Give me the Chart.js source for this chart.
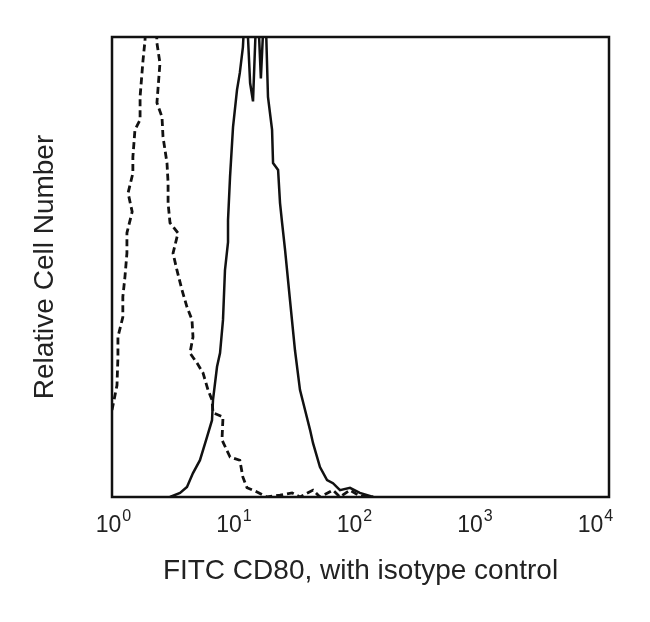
<!DOCTYPE html>
<html>
<head>
<meta charset="utf-8">
<script src="https://cdn.jsdelivr.net/npm/chart.js@4/dist/chart.umd.min.js"></script>
<style>
  html, body { margin: 0; padding: 0; background: #fff; }
  #wrap { width: 650px; height: 622px; }
</style>
</head>
<body>
<div id="wrap"><canvas id="c"></canvas></div>
<script>
// isotype control (dashed) - fluorescence vs relative count
const isoX = [1.00, 1.04, 1.10, 1.12, 1.12, 1.23, 1.23, 1.28, 1.33, 1.33, 1.47, 1.36, 1.49, 1.49, 1.55,
  1.71, 1.71, 1.81, 1.88, 1.95, 2.07, 2.28, 2.36, 2.50, 2.36, 2.60, 2.65, 2.86, 2.92, 2.92, 3.03,
  3.53, 3.21, 3.46, 3.81, 4.19, 4.61, 4.70, 4.44, 5.08, 5.69, 6.26, 6.76, 6.89, 8.34, 8.18, 9.54,
  11.5, 12.2, 13.2, 16.0, 19.3, 24.8, 31.2, 36.3, 46.6, 53.2, 68.2, 78.0, 94.4, 114, 147];
const isoY = [18.9, 21.1, 24.3, 30.4, 34.8, 39.1, 43.5, 47.8, 53.0, 57.4, 62.0, 66.1, 70.4, 73.9, 79.8,
  82.0, 87.0, 95.0, 99.3, 110, 110, 110, 98.7, 94.3, 85.7, 82.6, 78.3, 72.6, 68.3, 63.9, 59.6,
  57.4, 53.0, 49.3, 45.0, 41.3, 38.5, 34.8, 31.3, 29.1, 27.0, 23.3, 21.1, 18.3, 17.4, 12.4, 8.7,
  8.0, 4.3, 2.0, 1.1, 0, 0.4, 0.9, 0, 1.5, 0, 1.5, 0, 1.5, 0.2, 0];

// FITC CD80 (solid)
const cd80X = [3.03, 3.67, 4.19, 4.70, 5.37, 6.14, 6.76, 6.89, 7.44, 7.88, 8.34, 8.66, 9.18, 9.18, 9.54,
  10.1, 10.9, 11.5, 12.2, 12.9, 14.0, 14.8, 16.0, 17.2, 18.6, 19.7, 21.3, 21.7, 23.9, 24.8, 25.8,
  27.3, 30.0, 33.0, 36.3, 40.0, 44.0, 46.6, 53.2, 60.9, 68.2, 78.0, 94.4, 114, 147];
const cd80Y = [0, 0.9, 2.2, 5.2, 8.0, 13.0, 16.7, 21.1, 28.3, 31.3, 38.5, 49.3, 55.4, 60.2, 69.6,
  80.4, 88.5, 92.2, 97.8, 110, 90, 86, 110, 91, 110, 87, 79.8, 72.6, 71.1, 63.9, 59.6,
  53.7, 42.8, 31.9, 23.3, 18.9, 14.6, 11.7, 6.5, 3.7, 3.0, 1.5, 2.0, 0.9, 0];

const tickVals = [1, 10, 100, 1000, 10000];
const tickExp = ['0', '1', '2', '3', '4'];

const FONT = '"Liberation Sans", Arial, Helvetica, sans-serif';
const TEXT = '#222';

const pts = (xs, ys) => xs.map((x, i) => ({ x: x, y: ys[i] }));

const frameAndTicks = {
  id: 'frameAndTicks',
  afterDraw(chart) {
    const ctx = chart.ctx;
    const a = chart.chartArea;
    ctx.save();
    ctx.strokeStyle = '#111';
    ctx.lineWidth = 2.5;
    ctx.strokeRect(a.left, a.top, a.right - a.left, a.bottom - a.top);

    // log tick labels "10^n"
    const xs = chart.scales.x;
    ctx.fillStyle = TEXT;
    ctx.textBaseline = 'alphabetic';
    ctx.textAlign = 'left';
    xs.ticks.forEach((t, i) => {
      const px = xs.getPixelForValue(t.value);
      ctx.font = '23px ' + FONT;
      const wb = ctx.measureText('10').width;
      ctx.font = '16px ' + FONT;
      const we = ctx.measureText(tickExp[i]).width;
      const x0 = px - (wb + we) / 2 + 1;
      ctx.font = '23px ' + FONT;
      ctx.fillText('10', x0, 532);
      ctx.font = '16px ' + FONT;
      ctx.fillText(tickExp[i], x0 + wb + 1, 521);
    });
    ctx.restore();
  }
};

new Chart(document.getElementById('c'), {
  type: 'scatter',
  data: {
    datasets: [
      {
        label: 'Isotype control',
        data: pts(isoX, isoY),
        showLine: true,
        borderColor: '#111',
        borderWidth: 2.8,
        borderDash: [7, 4],
        pointRadius: 0,
        tension: 0
      },
      {
        label: 'FITC CD80',
        data: pts(cd80X, cd80Y),
        showLine: true,
        borderColor: '#111',
        borderWidth: 2.5,
        pointRadius: 0,
        tension: 0
      }
    ]
  },
  options: {
    responsive: true,
    maintainAspectRatio: false,
    animation: false,
    layout: { padding: { top: 37, right: 41, left: 0, bottom: 0 } },
    plugins: {
      legend: { display: false },
      tooltip: { enabled: false }
    },
    scales: {
      x: {
        type: 'logarithmic',
        min: 1,
        max: 13320,
        afterBuildTicks: (s) => { s.ticks = tickVals.map(v => ({ value: v })); },
        afterFit: (s) => { s.height = 125; },
        grid: { display: false, drawTicks: false },
        border: { display: false },
        ticks: { display: false },
        title: {
          display: true,
          text: 'FITC CD80, with isotype control',
          color: TEXT,
          font: { family: FONT, size: 28 },
          padding: { top: 0, bottom: 34 }
        }
      },
      y: {
        min: 0,
        max: 100,
        afterFit: (s) => { s.width = 112; },
        grid: { display: false, drawTicks: false },
        border: { display: false },
        ticks: { display: false },
        title: {
          display: true,
          text: 'Relative Cell Number',
          color: TEXT,
          font: { family: FONT, size: 28 },
          padding: { top: 28, bottom: 0 }
        }
      }
    }
  },
  plugins: [frameAndTicks]
});
</script>
</body>
</html>
